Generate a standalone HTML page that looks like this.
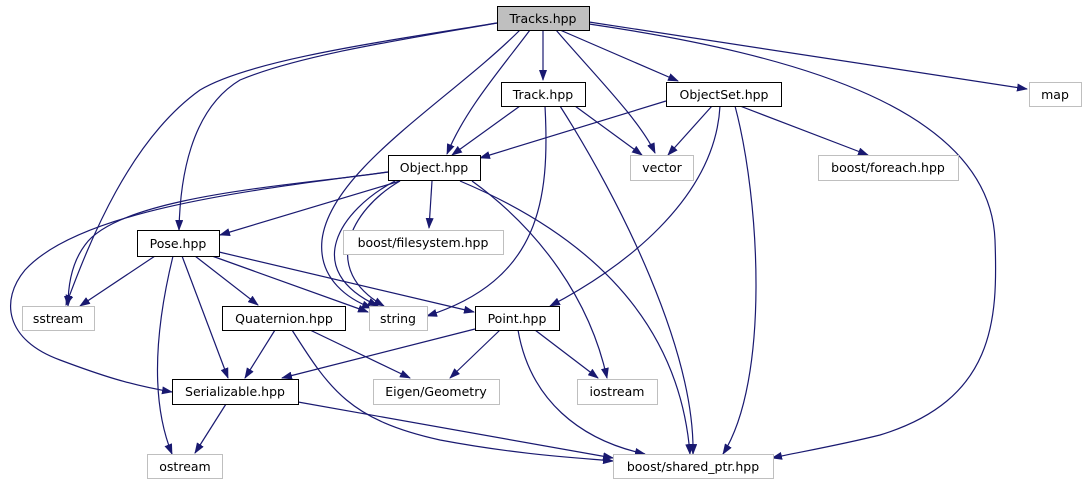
<!DOCTYPE html>
<html><head><meta charset="utf-8"><style>
html,body{margin:0;padding:0;background:#fff;width:1089px;height:485px;overflow:hidden}
text{font-family:"DejaVu Sans","Liberation Sans",sans-serif;font-size:12.5px;fill:#000}
</style></head><body>
<svg width="1089" height="485" viewBox="0 0 1089 485" xmlns="http://www.w3.org/2000/svg">
<defs><marker id="a" markerWidth="11" markerHeight="8" refX="10" refY="4" orient="auto" markerUnits="userSpaceOnUse"><polygon points="0,0 11,4 0,8" fill="#191970"/></marker></defs>
<g fill="none" stroke="#191970" stroke-width="1.2" marker-end="url(#a)">
<path d="M543,30 L543,80"/>
<path d="M560,30 L678,81"/>
<path d="M589,22 L1027,89"/>
<path d="M556,30 C590,70 640,120 655,153"/>
<path d="M589,24 C800,55 990,110 995,240 C998,320 995,400 880,435 C840,445 800,452 772,458"/>
<path d="M530,30 C500,70 465,110 447,154"/>
<path d="M497,23 C400,40 300,55 240,80 C190,110 180,180 179,230"/>
<path d="M497,23 C380,42 250,60 200,90 C130,140 90,240 66,305"/>
<path d="M520,30 C450,100 330,170 322,240 C318,280 350,300 372,308"/>
<path d="M520,106 L452,155"/>
<path d="M575,106 L642,155"/>
<path d="M545,106 C550,200 540,280 427,316"/>
<path d="M560,106 C620,200 695,350 693,454"/>
<path d="M666,101 L480,158"/>
<path d="M712,106 L668,155"/>
<path d="M740,106 L868,155"/>
<path d="M720,106 C715,200 620,270 550,306"/>
<path d="M735,106 C760,200 770,380 723,454"/>
<path d="M432,181 L429,228"/>
<path d="M400,181 L220,235"/>
<path d="M388,172 C300,185 120,195 85,245 C70,265 68,290 68,306"/>
<path d="M388,172 C250,190 80,210 25,270 C0,300 5,340 60,360 C100,375 130,385 172,392"/>
<path d="M395,181 C340,210 300,270 378,306"/>
<path d="M400,181 C350,210 320,270 384,306"/>
<path d="M472,181 C540,230 590,300 607,378"/>
<path d="M460,181 C600,240 680,330 690,454"/>
<path d="M155,256 L80,306"/>
<path d="M195,256 L258,305"/>
<path d="M212,256 L368,312"/>
<path d="M219,252 L474,312"/>
<path d="M182,256 L228,378"/>
<path d="M173,256 C155,330 150,400 172,454"/>
<path d="M275,330 L245,378"/>
<path d="M310,330 L410,378"/>
<path d="M292,330 C330,390 350,420 440,440 C520,455 580,458 613,461"/>
<path d="M475,329 L282,378"/>
<path d="M500,330 L450,378"/>
<path d="M535,330 L598,378"/>
<path d="M518,330 C530,400 580,440 645,454"/>
<path d="M226,404 L195,453"/>
<path d="M298,402 L613,458"/>
</g>
<g stroke-width="1">
<rect x="497.5" y="6.5" width="92" height="24" fill="#bfbfbf" stroke="#000"/>
<rect x="501.5" y="82.5" width="84" height="24" fill="#fff" stroke="#000"/>
<rect x="666.5" y="82.5" width="115" height="24" fill="#fff" stroke="#000"/>
<rect x="1029.5" y="82.5" width="52" height="24" fill="#fff" stroke="#bfbfbf"/>
<rect x="388.5" y="155.5" width="92" height="25" fill="#fff" stroke="#000"/>
<rect x="630.5" y="155.5" width="63" height="25" fill="#fff" stroke="#bfbfbf"/>
<rect x="818.5" y="155.5" width="140" height="25" fill="#fff" stroke="#bfbfbf"/>
<rect x="343.5" y="230.5" width="160" height="24" fill="#fff" stroke="#bfbfbf"/>
<rect x="137.5" y="230.5" width="82" height="26" fill="#fff" stroke="#000"/>
<rect x="22.5" y="306.5" width="72" height="24" fill="#fff" stroke="#bfbfbf"/>
<rect x="222.5" y="306.5" width="123" height="24" fill="#fff" stroke="#000"/>
<rect x="369.5" y="306.5" width="58" height="24" fill="#fff" stroke="#bfbfbf"/>
<rect x="475.5" y="306.5" width="84" height="24" fill="#fff" stroke="#000"/>
<rect x="172.5" y="379.5" width="126" height="25" fill="#fff" stroke="#000"/>
<rect x="373.5" y="379.5" width="126" height="25" fill="#fff" stroke="#bfbfbf"/>
<rect x="577.5" y="379.5" width="80" height="25" fill="#fff" stroke="#bfbfbf"/>
<rect x="147.5" y="454.5" width="75" height="24" fill="#fff" stroke="#bfbfbf"/>
<rect x="613.5" y="454.5" width="160" height="24" fill="#fff" stroke="#bfbfbf"/>
</g>
<g text-anchor="middle">
<text x="543" y="23">Tracks.hpp</text>
<text x="543" y="99">Track.hpp</text>
<text x="724" y="99">ObjectSet.hpp</text>
<text x="1055" y="99">map</text>
<text x="434" y="172">Object.hpp</text>
<text x="662" y="172">vector</text>
<text x="888" y="172">boost/foreach.hpp</text>
<text x="423" y="247">boost/filesystem.hpp</text>
<text x="178" y="248">Pose.hpp</text>
<text x="58" y="323">sstream</text>
<text x="284" y="323">Quaternion.hpp</text>
<text x="398" y="323">string</text>
<text x="517" y="323">Point.hpp</text>
<text x="235" y="396">Serializable.hpp</text>
<text x="436" y="396">Eigen/Geometry</text>
<text x="617" y="396">iostream</text>
<text x="185" y="471">ostream</text>
<text x="693" y="471">boost/shared_ptr.hpp</text>
</g>
</svg>
</body></html>
